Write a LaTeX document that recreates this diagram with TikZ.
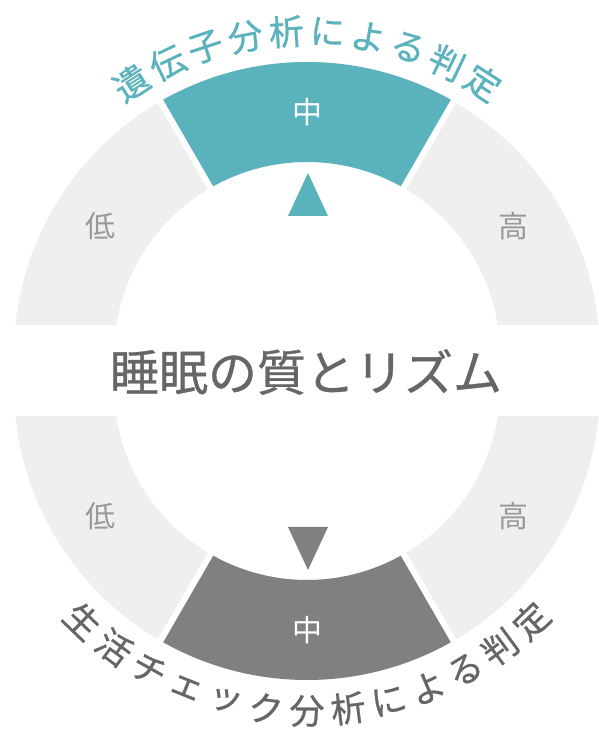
\documentclass[tikz,border=0pt]{standalone}
\usepackage{fontspec}
\setmainfont{Noto Sans CJK JP}
\newfontfamily\medfont[FakeBold=0.7]{Noto Sans CJK JP}
\usetikzlibrary{calc}
\begin{document}
\begin{tikzpicture}[x=1pt,y=1pt]
\definecolor{genecolor}{HTML}{5AB2BC}
\definecolor{lifecolor}{HTML}{808080}
\definecolor{ringcolor}{HTML}{EFEFEF}
\definecolor{labelcolor}{HTML}{999999}
\definecolor{titlecolor}{HTML}{666666}
\tikzset{
  lvltext/.style = {text = labelcolor, font = \fontsize{30}{30}\selectfont},
  midtext/.style = {text = white, font = \fontsize{30}{30}\selectfont},
  arcchar/.style = {font = \medfont\fontsize{35}{35}\selectfont, inner sep = 0pt},
}
\useasboundingbox (0,0) rectangle (599,731);
\pgfmathsetmacro\rout{293};
\pgfmathsetmacro\rin{193};
\pgfmathsetmacro\rtext{324};
\pgfmathsetmacro\pitch{7.3};
\coordinate (up) at (307,376);
\coordinate (lo) at (307,344);
% upper ring
\begin{scope}
\clip (0,406) rectangle (599,731);
\fill [ringcolor] ($(up)+(0:\rout)$) arc [start angle = 0, end angle = 180, radius = \rout] -- ($(up)+(180:\rin)$) arc [start angle = 180, end angle = 0, radius = \rin] -- cycle;
\fill [genecolor] ($(up)+(60:\rout)$) arc [start angle = 60, end angle = 120, radius = \rout] -- ($(up)+(120:\rin)$) arc [start angle = 120, end angle = 60, radius = \rin] -- cycle;
\foreach \a in {60,120} \draw [white, line width = 6] (up) -- ++(\a:\rout+10);
\end{scope}
% lower ring
\begin{scope}
\clip (0,0) rectangle (599,314);
\fill [ringcolor] ($(lo)+(180:\rout)$) arc [start angle = 180, end angle = 360, radius = \rout] -- ($(lo)+(0:\rin)$) arc [start angle = 360, end angle = 180, radius = \rin] -- cycle;
\fill [lifecolor] ($(lo)+(240:\rout)$) arc [start angle = 240, end angle = 300, radius = \rout] -- ($(lo)+(300:\rin)$) arc [start angle = 300, end angle = 240, radius = \rin] -- cycle;
\foreach \a in {240,300} \draw [white, line width = 6] (lo) -- ++(\a:\rout+10);
\end{scope}
% pointers
\fill [genecolor] (288,515) -- (328,515) -- (308,558) -- cycle;
\fill [lifecolor] (288,204) -- (328,204) -- (308,161) -- cycle;
\node [lvltext] (glow) at ($(up)+(148:243)$) {低};
\node [midtext] (gmid) at ($(up)+(90:243)$) {中};
\node [lvltext] (ghigh) at ($(up)+(32:243)$) {高};
\node [lvltext] (llow) at ($(lo)+(212:243)$) {低};
\node [midtext] (lmid) at ($(lo)+(270:243)$) {中};
\node [lvltext] (lhigh) at ($(lo)+(328:243)$) {高};
\node [font = \medfont\fontsize{49}{49}\selectfont, text = titlecolor] (title) at (306,359) {睡眠の質とリズム};
% curved captions
\foreach \c [count = \i] in {遺,伝,子,分,析,に,よ,る,判,定} {
  \pgfmathsetmacro\a{90+4.5*\pitch-(\i-1)*\pitch}
  \node [arcchar, text = genecolor, rotate = \a-90] (gene\i) at ($(up)+(\a:\rtext)$) {\c};
}
\foreach \c [count = \i] in {生,活,チ,ェ,ッ,ク,分,析,に,よ,る,判,定} {
  \pgfmathsetmacro\a{270-6*\pitch+(\i-1)*\pitch}
  \node [arcchar, text = titlecolor, rotate = \a+90] (life\i) at ($(lo)+(\a:\rtext)$) {\c};
}
\end{tikzpicture}
\end{document}
